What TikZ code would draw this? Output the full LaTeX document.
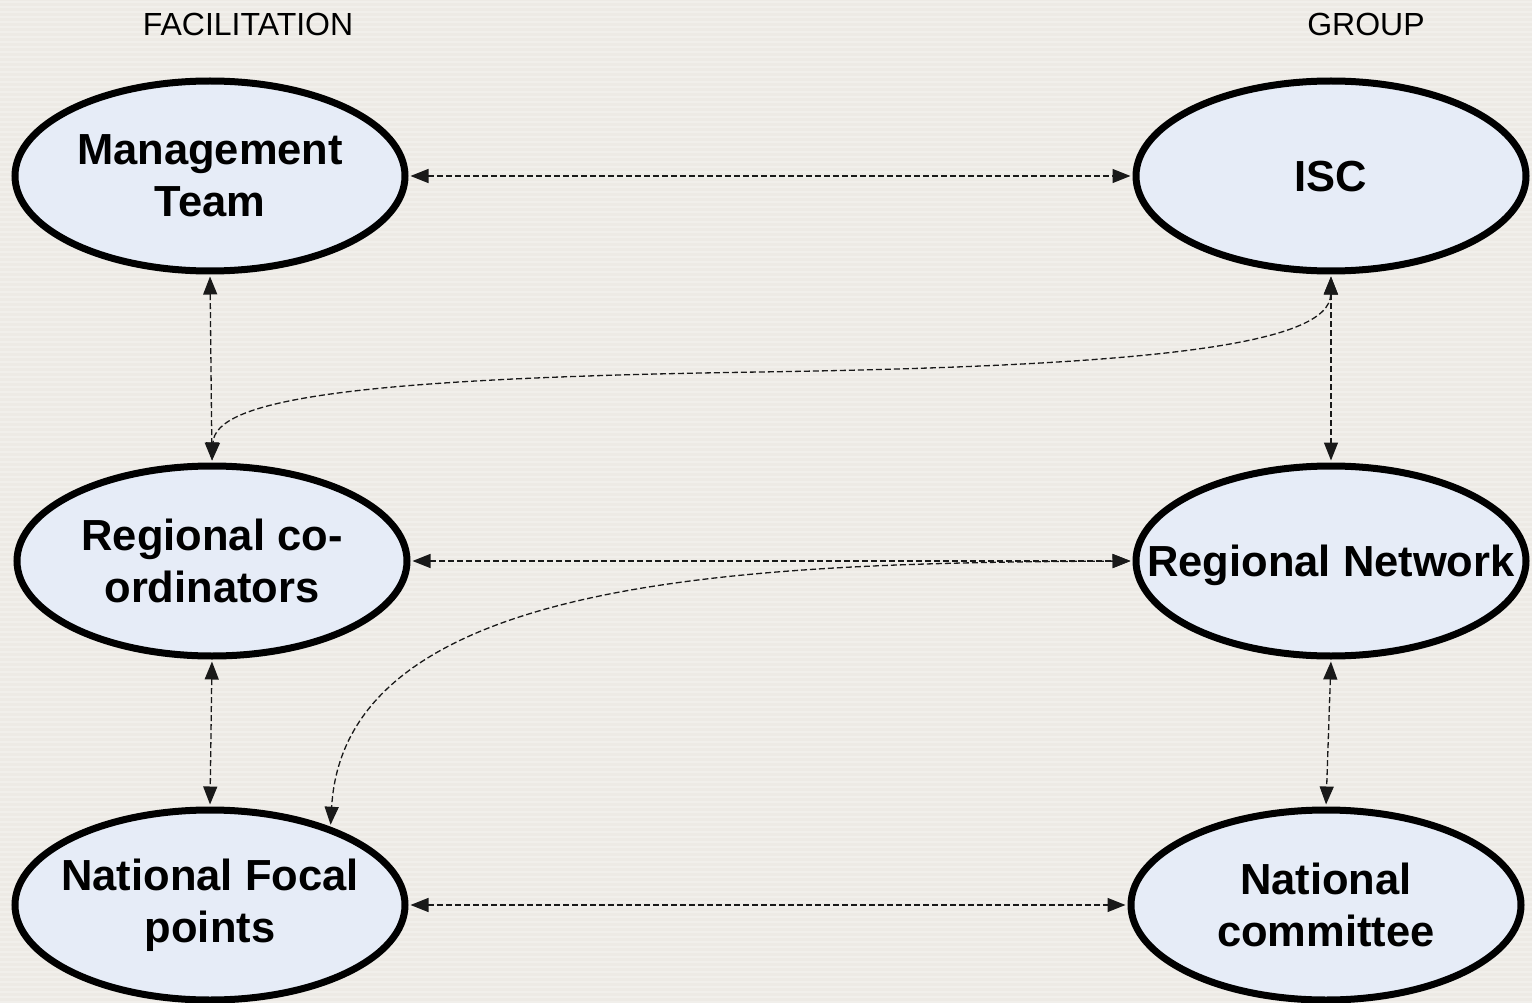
\documentclass[tikz,border=0pt]{standalone}
\usepackage{fontspec}
\setmainfont{Liberation Sans}
\usetikzlibrary{shapes.geometric,arrows.meta}
\definecolor{bgc}{HTML}{EDEAE5}
\definecolor{stripec}{HTML}{F1EFEB}
\definecolor{ellfill}{HTML}{E6ECF7}
\begin{document}
\begin{tikzpicture}[x=1pt,y=-1pt,
  lbl/.style={inner sep=0pt, align=center, font=\fontsize{43.5}{52}\selectfont\bfseries},
  actor/.style={ellipse, draw=black, line width=7pt, fill=ellfill,
    minimum width=390pt, minimum height=190pt, inner sep=0pt,
    label={[lbl]center:#1}},
  actor1/.style={ellipse, draw=black, line width=7pt, fill=ellfill,
    minimum width=390pt, minimum height=190pt, inner sep=0pt,
    label={[lbl, text height=31pt, text depth=0pt]center:#1}},
  link/.style={dash pattern=on 6pt off 3pt, line width=1.3pt, draw=black!90,
    {Triangle[length=18pt,width=14pt]}-{Triangle[length=18pt,width=14pt]},
    shorten <=2pt, shorten >=2pt},
  head/.style={font=\fontsize{32}{38}\selectfont, inner sep=0pt}]
\useasboundingbox (0,0) rectangle (1532,1003);
\clip (0,0) rectangle (1532,1003);
\fill[bgc] (0,0) rectangle (1532,1003);
\foreach \yy in {2,7,...,1002} \draw[stripec, line width=2pt] (0,\yy) -- (1532,\yy);

\node[head] (fac) at (248,24) {FACILITATION};
\node[head] (grp) at (1366,24) {GROUP};

\node[actor={Management\\Team}] (mt)  at (210,176) {};
\node[actor1={ISC}] (isc) at (1331,176) {};
\node[actor={Regional co-\\ordinators}] (rc)  at (212,561) {};
\node[actor1={Regional Network}] (rn)  at (1331,561) {};
\node[actor={National Focal\\points}] (nfp) at (210,905) {};
\node[actor={National\\committee}] (nc)  at (1326,905) {};

\draw[link] (mt.east) -- (isc.west);
\draw[link] (rc.east) -- (rn.west);
\draw[link] (nfp.east) -- (nc.west);
\draw[link] (mt.south) -- (rc.north);
\draw[link] (rc.south) -- (nfp.north);
\draw[link] (isc.south) -- (rn.north);
\draw[link] (rn.south) -- (nc.north);
\draw[link] (isc.south) .. controls (1330,345) and (1150,366) .. (760,372)
  .. controls (350,378) and (215,400) .. (rc.north);
\draw[link] (rn.west) .. controls (750,563) and (345,575) .. (nfp.33);
\end{tikzpicture}
\end{document}
